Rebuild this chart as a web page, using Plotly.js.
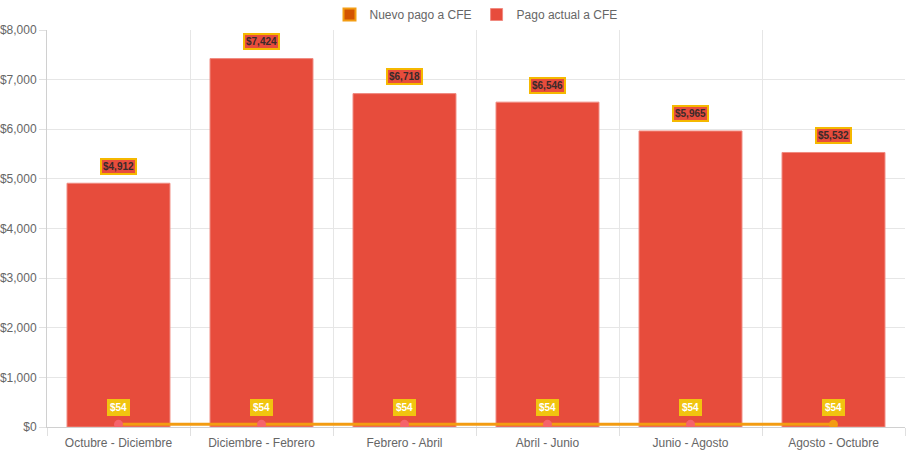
<!DOCTYPE html>
<html>
<head>
<meta charset="utf-8">
<script src="https://cdn.plot.ly/plotly-3.0.1.min.js"></script>
<style>html,body{margin:0;padding:0;background:#fff;}#chart{width:910px;height:454px;}</style>
</head>
<body>
<div id="chart"></div>
<script>
var categories = ["Octubre - Diciembre", "Diciembre - Febrero", "Febrero - Abril", "Abril - Junio", "Junio - Agosto", "Agosto - Octubre"];
var pagoActual = [4912, 7424, 6718, 6546, 5965, 5532];
var nuevoPago = [54, 54, 54, 54, 54, 54];
var yTicks = [0, 1000, 2000, 3000, 4000, 5000, 6000, 7000, 8000];

function money(v){ return "$" + v.toLocaleString("en-US"); }

var pointColors = nuevoPago.map(function(v, i){ return i === nuevoPago.length - 1 ? "#f39c12" : "#f5636b"; });

var traces = [
  {
    type: "bar", name: "Nuevo pago a CFE", x: categories, y: nuevoPago.map(function(){ return null; }),
    marker: {color: "#d35400", line: {color: "#f39c12", width: 2}},
    showlegend: true, hoverinfo: "skip"
  },
  {
    type: "bar", name: "Pago actual a CFE", x: categories, y: pagoActual,
    marker: {color: "#e74c3c", line: {color: "#f08a80", width: 1}},
    hoverinfo: "skip"
  },
  {
    type: "scatter", mode: "lines+markers", name: "Nuevo pago a CFE (línea)", x: categories, y: nuevoPago,
    line: {color: "#f39c12", width: 3},
    marker: {color: pointColors, size: 9, line: {width: 0}},
    showlegend: false, hoverinfo: "skip"
  }
];

var annotations = [];
categories.forEach(function(c, i){
  annotations.push({
    x: c, y: pagoActual[i], xref: "x", yref: "y",
    text: "<b>" + money(pagoActual[i]) + "</b>", showarrow: false,
    yanchor: "middle", yshift: 17,
    font: {family: "Liberation Sans, Arial, sans-serif", size: 10, color: "#3a2a2a"},
    bgcolor: "#e74c3c", bordercolor: "#f5b800", borderwidth: 2, borderpad: 1
  });
  annotations.push({
    x: c, y: nuevoPago[i], xref: "x", yref: "y",
    text: "<b>" + money(nuevoPago[i]) + "</b>", showarrow: false,
    yanchor: "middle", yshift: 17,
    font: {family: "Liberation Sans, Arial, sans-serif", size: 10, color: "#ffffff"},
    bgcolor: "#f1c40f", bordercolor: "#f1c40f", borderwidth: 2, borderpad: 1
  });
});

var layout = {
  width: 910, height: 454,
  margin: {l: 47, r: 5, t: 30, b: 27},
  paper_bgcolor: "#ffffff", plot_bgcolor: "#ffffff",
  font: {family: "Liberation Sans, Arial, Helvetica, sans-serif", size: 12, color: "#666"},
  barmode: "overlay",
  bargap: 0.28,
  showlegend: true,
  legend: {
    orientation: "h", x: 0.5, xanchor: "center", y: 1, yanchor: "top",
    yref: "container", traceorder: "normal",
    font: {size: 12, color: "#666"}, itemwidth: 30
  },
  xaxis: {
    type: "category", tickson: "boundaries",
    showgrid: true, gridcolor: "#e6e6e6", gridwidth: 1,
    ticks: "outside", ticklen: 8, tickcolor: "#e0e0e0",
    ticklabelstandoff: 5,
    showline: true, linecolor: "#d0d0d0", linewidth: 1,
    tickfont: {size: 12, color: "#666"}, fixedrange: true
  },
  yaxis: {
    range: [0, 8000], tickvals: yTicks, ticktext: yTicks.map(money),
    showgrid: true, gridcolor: "#e6e6e6", gridwidth: 1,
    ticks: "outside", ticklen: 7, tickcolor: "#e0e0e0",
    showline: true, linecolor: "#d0d0d0", linewidth: 1,
    zeroline: false, tickfont: {size: 12, color: "#666"}, fixedrange: true
  },
  annotations: annotations
};

Plotly.newPlot("chart", traces, layout, {displayModeBar: false, staticPlot: true});
</script>
</body>
</html>
